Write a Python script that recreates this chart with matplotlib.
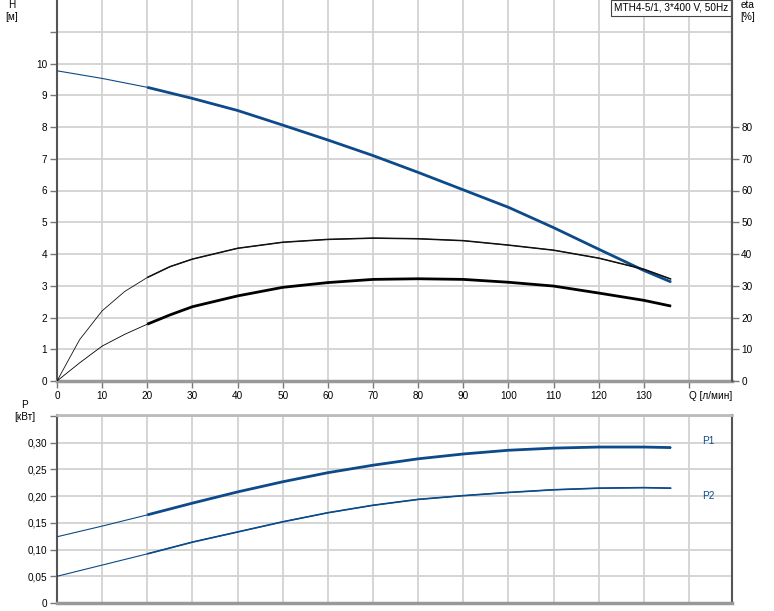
import matplotlib
matplotlib.use('Agg')
from matplotlib import pyplot as plt
import numpy as np

plt.rcParams['font.family'] = ['Liberation Sans', 'DejaVu Sans']
plt.rcParams['font.size'] = 7.2

# head curve H [m]
q_h = [0, 10, 20, 30, 40, 50, 60, 70, 80, 90, 100, 110, 120, 130, 136]
h = [9.77, 9.53, 9.25, 8.9, 8.52, 8.06, 7.59, 7.1, 6.57, 6.02, 5.47, 4.83, 4.15, 3.48, 3.12]

# efficiency curves eta [%]
q_eta = [0, 5, 10, 15, 20, 25, 30, 40, 50, 60, 70, 80, 90, 100, 110, 120, 130, 136]
eta_upper = [0, 13, 22.1, 28.2, 32.6, 36.0, 38.4, 41.8, 43.7, 44.6, 45.0, 44.8, 44.2, 42.8, 41.2, 38.7, 35.2, 32.1]
eta_lower = [0, 5.7, 11.0, 14.7, 17.9, 20.8, 23.4, 26.8, 29.5, 31.0, 32.0, 32.2, 32.0, 31.1, 29.9, 27.7, 25.4, 23.6]

# power curves P [kW]
q_p = [0, 10, 20, 30, 40, 50, 60, 70, 80, 90, 100, 110, 120, 130, 136]
p1 = [0.124, 0.144, 0.165, 0.187, 0.208, 0.227, 0.244, 0.258, 0.270, 0.279, 0.286, 0.290, 0.292, 0.292, 0.291]
p2 = [0.050, 0.071, 0.092, 0.114, 0.133, 0.152, 0.169, 0.183, 0.194, 0.201, 0.207, 0.212, 0.215, 0.216, 0.215]

x_ticks = list(range(0, 150, 10))
x_labels = [str(v) for v in range(0, 140, 10)] + ['Q [л/мин]']
h_ticks = list(range(0, 11))
eta_ticks = list(range(0, 90, 10))
p_ticks = [0, 0.05, 0.10, 0.15, 0.20, 0.25, 0.30, 0.35]
p_labels = ['0', '0,05', '0,10', '0,15', '0,20', '0,25', '0,30', '']

blue = '#0d4a8a'
grid_c = '#d2d2d2'
spine_c = '#555555'


def thin_thick(ax, x, y, color, lw_thin, lw_thick):
    x = np.array(x, dtype=float)
    y = np.array(y, dtype=float)
    ax.plot(x, y, color=color, lw=lw_thin, zorder=3)
    m = x >= 20
    ax.plot(x[m], y[m], color=color, lw=lw_thick, zorder=4, solid_capstyle='butt')


def style_axes(ax):
    ax.set_xlim(0, 149.4)
    ax.set_xticks(x_ticks)
    ax.grid(True, color=grid_c, lw=1.3)
    ax.set_axisbelow(True)
    ax.spines['left'].set_color(spine_c)
    ax.spines['left'].set_linewidth(1.5)
    ax.spines['right'].set_color(spine_c)
    ax.spines['right'].set_linewidth(1.5)
    ax.spines['bottom'].set_color('#999999')
    ax.spines['bottom'].set_linewidth(2.5)
    ax.tick_params(colors='#777777', labelcolor='black', length=5, width=1, pad=2)


fig = plt.figure(figsize=(7.74, 6.11), dpi=100)

ax1 = fig.add_axes([57 / 774, 1 - 381 / 611, 674.5 / 774, 381 / 611])
style_axes(ax1)
ax1.set_ylim(0, 12)
ax1.set_yticks(list(range(0, 12)))
ax1.set_yticklabels([str(v) for v in h_ticks] + [''])
ax1.spines['top'].set_visible(False)
ax1.set_xticklabels(x_labels)
ax1.get_xticklabels()[-1].set_ha('left')
thin_thick(ax1, q_h, h, blue, 0.8, 2.0)

ax1r = ax1.twinx()
ax1r.set_ylim(0, 120)
ax1r.set_yticks(eta_ticks)
ax1r.spines['top'].set_visible(False)
ax1r.spines['left'].set_visible(False)
ax1r.spines['bottom'].set_visible(False)
ax1r.spines['right'].set_color(spine_c)
ax1r.spines['right'].set_linewidth(1.5)
ax1r.tick_params(colors='#777777', labelcolor='black', length=5, width=1, pad=2)
thin_thick(ax1r, q_eta, eta_upper, '#111111', 0.6, 1.1)
thin_thick(ax1r, q_eta, eta_lower, '#000000', 0.6, 2.0)

fig.text(12 / 774, 1 - 5 / 611, 'H', ha='center', va='center')
fig.text(12 / 774, 1 - 17 / 611, '[м]', ha='center', va='center')
fig.text(748 / 774, 1 - 5 / 611, 'eta', ha='center', va='center')
fig.text(748 / 774, 1 - 17 / 611, '[%]', ha='center', va='center')
ax1.text(0.9948, 1 - 3 / 381, 'MTH4-5/1, 3*400 V, 50Hz', transform=ax1.transAxes,
         ha='right', va='top',
         bbox=dict(boxstyle='square,pad=0.3', fc='white', ec='#444444', lw=0.8))

ax2 = fig.add_axes([57 / 774, 1 - 603 / 611, 674.5 / 774, 188 / 611])
style_axes(ax2)
ax2.set_ylim(0, 0.352)
ax2.set_yticks(p_ticks)
ax2.set_yticklabels(p_labels)
ax2.set_xticklabels([])
ax2.tick_params(axis='x', length=0)
ax2.spines['top'].set_color('#bbbbbb')
ax2.spines['top'].set_linewidth(2)
thin_thick(ax2, q_p, p1, blue, 0.8, 2.0)
thin_thick(ax2, q_p, p2, blue, 0.8, 1.2)
ax2.text(144.2, 0.303, 'P1', color=blue, ha='center', va='center')
ax2.text(144.2, 0.200, 'P2', color=blue, ha='center', va='center')

fig.text(25 / 774, 1 - 405 / 611, 'P', ha='center', va='center')
fig.text(25 / 774, 1 - 417 / 611, '[кВт]', ha='center', va='center')

fig.savefig('out.png', dpi=100)
